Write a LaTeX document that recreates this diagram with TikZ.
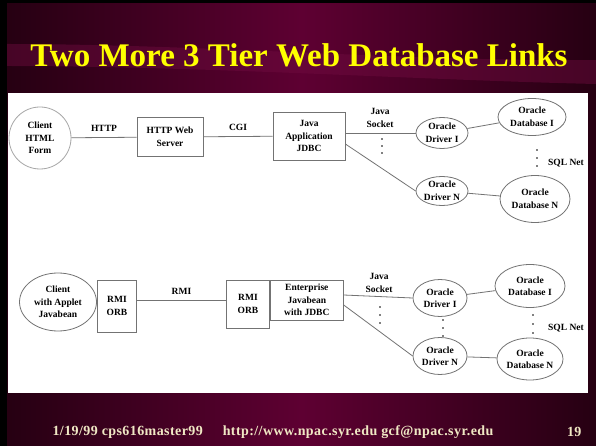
\documentclass[tikz,border=0pt]{standalone}
\usepackage{fontspec}
\setmainfont{Liberation Serif}
\usetikzlibrary{shapes.geometric}
\definecolor{maroon}{RGB}{94,0,50}
\definecolor{darkmaroon}{RGB}{38,0,18}
\definecolor{swoosh}{RGB}{112,12,64}
\definecolor{slideyellow}{RGB}{255,255,0}
\definecolor{footcream}{RGB}{240,232,196}
\tikzset{
  tier/.style={draw=black!55, thick, align=center, inner sep=0pt,
    font=\bfseries\fontsize{9.5}{12.5}\selectfont},
  box/.style={tier, rectangle},
  oval/.style={tier, ellipse},
  link/.style={black!55, thick},
  lbl/.style={text=black, align=center, font=\bfseries\fontsize{9.5}{12.5}\selectfont},
  foot/.style={text=footcream, font=\bfseries\fontsize{14}{15}\selectfont\addfontfeature{LetterSpace=3}},
}

\begin{document}
\begin{tikzpicture}[x=1pt,y=-1pt]
  \useasboundingbox (0,0) rectangle (596,446);

  % slide background
  \fill[black] (0,0) rectangle (596,446);
  \shade[left color=darkmaroon, right color=darkmaroon, middle color=maroon]
    (7,4) rectangle (596,446);
  \fill[swoosh, opacity=.45] (7,44) .. controls (200,44) and (420,62) .. (596,60)
    -- (596,84) .. controls (420,80) and (200,66) .. (7,66) -- cycle;
  \fill[white] (8,93) rectangle (588,393);

  % title and footer
  \node (title) [text=slideyellow, font=\bfseries\fontsize{33}{35}\selectfont]
    at (299,55) {Two More 3 Tier Web Database Links};
  \node (footer) [foot, anchor=west] at (49,432)
    {1/19/99 cps616master99\hspace{16pt} http://www.npac.syr.edu gcf@npac.syr.edu};
  \node (pageno) [foot, anchor=east] at (585,432) {19};

  % HTML form / CGI
  \node (client)  [oval, draw=black!35, minimum width=62, minimum height=62] at (40,138) {Client\\HTML\\Form};
  \node (websrv)  [box, minimum width=66, minimum height=39] at (170,137) {HTTP Web\\Server};
  \node (javaapp) [box, minimum width=72, minimum height=48] at (309,136) {Java\\Application\\JDBC};
  \node (drvone)  [oval, minimum width=52, minimum height=31] at (442,133) {Oracle\\Driver I};
  \node (drvn)    [oval, minimum width=52, minimum height=29] at (442,191) {Oracle\\Driver N};
  \node (dbone)   [oval, minimum width=68, minimum height=37] at (532,117) {Oracle\\Database I};
  \node (dbn)     [oval, minimum width=70, minimum height=47] at (535,199) {Oracle\\Database N};

  \draw[link] (client) -- node[lbl, above=2pt] {HTTP} (websrv);
  \draw[link] (websrv) -- node[lbl, above=2pt] {CGI} (javaapp);
  \draw[link] (javaapp.east |- drvone.west) -- (drvone.west);
  \draw[link] ([yshift=-8pt]javaapp.east) -- (drvn.west);
  \draw[link] (drvone) -- (dbone);
  \draw[link] (drvn) -- (dbn);
  \node (sockone) [lbl] at (380,118) {Java\\Socket};
  \node (sqlone)  [lbl] at (566,163) {SQL Net};
  \foreach \y in {139,146,153} \fill (382,\y) circle (0.9);
  \foreach \y in {150,158,166} \fill (537,\y) circle (0.9);

  % applet / RMI
  \node (applet)  [oval, minimum width=77, minimum height=58] at (58,302) {Client\\with Applet\\Javabean};
  \node (orbone)  [box, minimum width=39, minimum height=52] at (117,306) {RMI\\ORB};
  \node (orbtwo)  [box, minimum width=43, minimum height=48] at (248,304) {RMI\\ORB};
  \node (entbean) [box, minimum width=73, minimum height=40, anchor=west] at (orbtwo.east |- 0,300)
    {Enterprise\\Javabean\\with JDBC};
  \node (drvtwo)  [oval, minimum width=54, minimum height=37] at (440,298) {Oracle\\Driver I};
  \node (drvm)    [oval, minimum width=54, minimum height=37] at (440,356) {Oracle\\Driver N};
  \node (dbtwo)   [oval, minimum width=70, minimum height=43] at (530,286) {Oracle\\Database I};
  \node (dbm)     [oval, minimum width=66, minimum height=42] at (530,359) {Oracle\\Database N};

  \draw[link] (orbone.east |- 0,300) -- node[lbl, above=2pt] {RMI} (orbtwo.west |- 0,300);
  \draw[link] ([yshift=5pt]entbean.east) -- (drvtwo.west);
  \draw[link] ([yshift=-5pt]entbean.east) -- (drvm.west);
  \draw[link] (drvtwo) -- (dbtwo);
  \draw[link] (drvm) -- (dbm);
  \node (socktwo) [lbl] at (379,283) {Java\\Socket};
  \node (sqltwo)  [lbl] at (566,328) {SQL Net};
  \foreach \y in {307,315,323} \fill (380,\y) circle (0.9);
  \foreach \y in {320,328,336} \fill (443,\y) circle (0.9);
  \foreach \y in {315,324,333} \fill (533,\y) circle (0.9);
\end{tikzpicture}
\end{document}
